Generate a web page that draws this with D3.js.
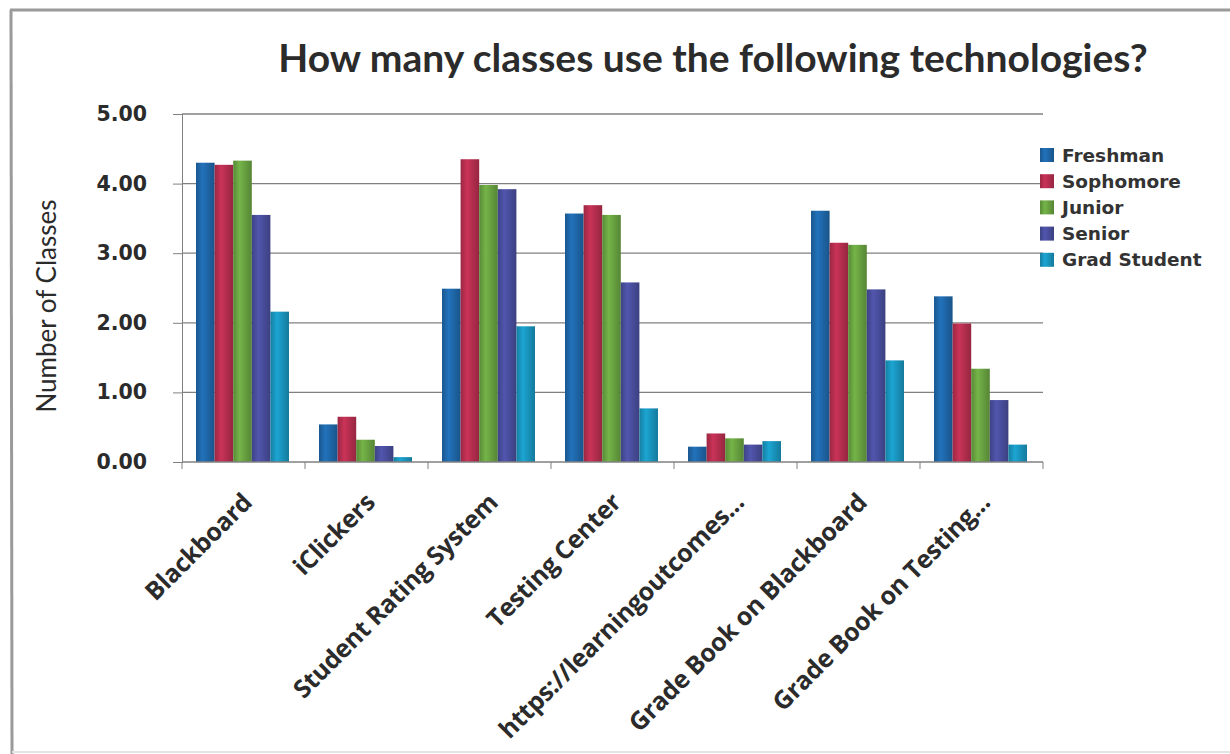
<!DOCTYPE html>
<html>
<head>
<meta charset="utf-8">
<script src="https://cdn.jsdelivr.net/npm/d3@7"></script>
<style>
  body { margin: 0; background: #fff; }
  svg { display: block; }
</style>
</head>
<body>
<svg id="chart" width="1230" height="754"></svg>
<script>
// data
const categories = ['Blackboard', 'iClickers', 'Student Rating System', 'Testing Center',
  'https://learningoutcomes...', 'Grade Book on Blackboard', 'Grade Book on Testing...'];
const series = ['Freshman', 'Sophomore', 'Junior', 'Senior', 'Grad Student'];
const freshman  = [4.30, 0.54, 2.49, 3.57, 0.22, 3.61, 2.38];
const sophomore = [4.27, 0.65, 4.35, 3.69, 0.41, 3.15, 1.99];
const junior    = [4.33, 0.32, 3.98, 3.55, 0.34, 3.12, 1.34];
const senior    = [3.55, 0.23, 3.92, 2.58, 0.25, 2.48, 0.89];
const grad      = [2.16, 0.07, 1.95, 0.77, 0.30, 1.46, 0.25];
const yTicks = [0, 1, 2, 3, 4, 5];

const values = [freshman, sophomore, junior, senior, grad];
const colors = ['#1f68ab', '#b92f50', '#6aa542', '#4a4f9f', '#1a97c1'];

const svg = d3.select('#chart');
const margin = { top: 114, left: 182, right: 187, bottom: 292 };
const W = 1230, H = 754;

// frame of the scanned chart
svg.append('line').attr('x1', 10).attr('x2', W).attr('y1', 10).attr('y2', 10)
  .attr('stroke', '#9a9a9a').attr('stroke-width', 3);
svg.append('line').attr('x1', 11).attr('x2', 12).attr('y1', 10).attr('y2', H)
  .attr('stroke', '#9a9a9a').attr('stroke-width', 3);
svg.append('line').attr('x1', 12).attr('x2', W).attr('y1', 752).attr('y2', 752)
  .attr('stroke', '#e4e4e4').attr('stroke-width', 2);

const x0 = d3.scaleBand()
  .domain(categories)
  .range([margin.left, W - margin.right]);

const x1 = d3.scaleBand()
  .domain(series)
  .range([14, x0.bandwidth() - 16]);

const y = d3.scaleLinear()
  .domain([0, 5])
  .range([H - margin.bottom, margin.top]);

// gradients give the bars that rounded Excel look
const defs = svg.append('defs');
colors.forEach((c, i) => {
  const g = defs.append('linearGradient').attr('id', 'grad' + i)
    .attr('x1', '0%').attr('x2', '100%').attr('y1', '0%').attr('y2', '0%');
  g.append('stop').attr('offset', '0%').attr('stop-color', d3.color(c).darker(0.5));
  g.append('stop').attr('offset', '35%').attr('stop-color', d3.color(c).brighter(0.25));
  g.append('stop').attr('offset', '100%').attr('stop-color', d3.color(c).darker(0.6));
});

// gridlines
svg.append('g')
  .selectAll('line')
  .data(yTicks.slice(1))
  .join('line')
  .attr('x1', margin.left).attr('x2', W - margin.right)
  .attr('y1', d => y(d)).attr('y2', d => y(d))
  .attr('stroke', '#808080').attr('stroke-width', 1.3);

// bars
const groups = svg.append('g')
  .selectAll('g')
  .data(categories)
  .join('g')
  .attr('transform', d => `translate(${x0(d)},0)`);

groups.selectAll('rect')
  .data((d, ci) => series.map((s, si) => ({ s, si, v: values[si][ci] })))
  .join('rect')
  .attr('x', d => x1(d.s))
  .attr('width', x1.bandwidth())
  .attr('y', d => y(d.v))
  .attr('height', d => y(0) - y(d.v))
  .attr('fill', d => `url(#grad${d.si})`);

// y axis
const yAxis = svg.append('g')
  .attr('transform', `translate(${margin.left},0)`)
  .call(d3.axisLeft(y).tickValues(yTicks).tickFormat(d3.format('.2f')).tickSize(9).tickPadding(26));
yAxis.select('.domain').attr('stroke', '#808080');
yAxis.selectAll('.tick line').attr('stroke', '#808080');
yAxis.selectAll('text')
  .attr('font-family', 'DejaVu Sans')
  .attr('font-weight', 'bold')
  .attr('font-size', 20.5)
  .attr('fill', '#2b2b2b');

// x axis with ticks on the category boundaries
const xAxis = svg.append('g')
  .attr('transform', `translate(0,${y(0)})`);
xAxis.append('line')
  .attr('x1', margin.left).attr('x2', W - margin.right)
  .attr('stroke', '#808080').attr('stroke-width', 1.3);
xAxis.selectAll('.bound')
  .data(categories.map(c => x0(c)).concat([x0.range()[1]]))
  .join('line')
  .attr('class', 'bound')
  .attr('x1', d => d).attr('x2', d => d)
  .attr('y1', 0).attr('y2', 7)
  .attr('stroke', '#808080');

xAxis.selectAll('text')
  .data(categories)
  .join('text')
  .attr('transform', d => `translate(${x0(d) + x0.bandwidth() / 2 + 10},${42}) rotate(-45)`)
  .attr('text-anchor', 'end')
  .attr('font-family', 'Open Sans')
  .attr('font-weight', 'bold')
  .attr('font-size', 25)
  .attr('letter-spacing', -0.3)
  .attr('fill', '#2b2b2b')
  .text(d => d);

// y axis title
svg.append('text')
  .attr('transform', 'translate(56,306) rotate(-90)')
  .attr('text-anchor', 'middle')
  .attr('font-family', 'Lato')
  .attr('font-size', 26)
  .attr('fill', '#2b2b2b')
  .text('Number of Classes');

// title
svg.append('text')
  .attr('x', 713).attr('y', 72)
  .attr('text-anchor', 'middle')
  .attr('font-family', 'Lato')
  .attr('font-weight', 'bold')
  .attr('font-size', 39)
  .attr('fill', '#2b2b2b')
  .text('How many classes use the following technologies?');

// legend
const legend = svg.append('g')
  .selectAll('g')
  .data(series)
  .join('g')
  .attr('transform', (d, i) => `translate(1040,${155 + i * 26.2})`);
legend.append('rect')
  .attr('x', 0).attr('y', -7).attr('width', 14).attr('height', 14)
  .attr('fill', (d, i) => `url(#grad${i})`);
legend.append('text')
  .attr('x', 22).attr('y', 0).attr('dy', '0.36em')
  .attr('font-family', 'DejaVu Sans')
  .attr('font-weight', 'bold')
  .attr('font-size', 18.5)
  .attr('fill', '#333')
  .text(d => d);
</script>
</body>
</html>
